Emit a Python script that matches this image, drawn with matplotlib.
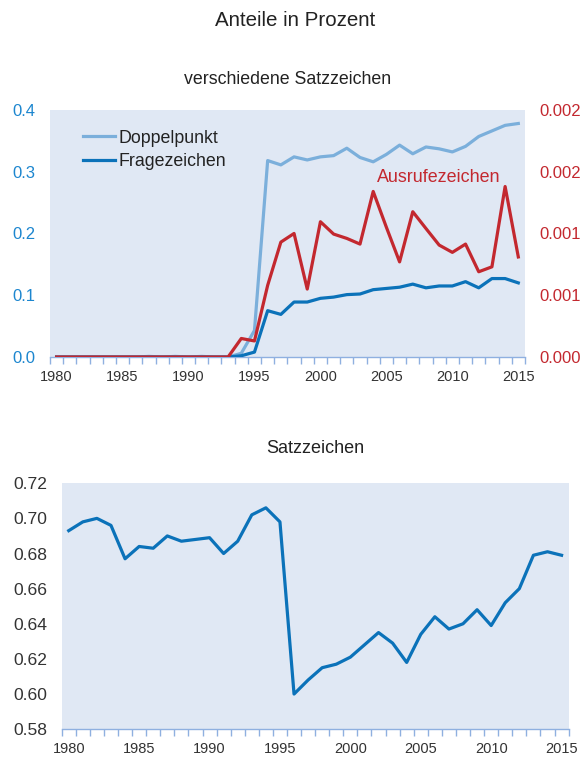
import numpy as np
import matplotlib
matplotlib.use("Agg")
import matplotlib.pyplot as plt
from matplotlib.ticker import FixedLocator

plt.rcParams["font.family"] = ["Liberation Sans", "DejaVu Sans"]

# --- data -------------------------------------------------------------
years = list(range(1980, 2016))

doppelpunkt = [0.0, 0.0, 0.0, 0.0, 0.0, 0.0, 0.0, 0.001, 0.0, 0.001,
               0.0, 0.001, 0.0, 0.0, 0.006, 0.043, 0.318, 0.311, 0.324, 0.319,
               0.324, 0.326, 0.338, 0.323, 0.316, 0.328, 0.343, 0.329, 0.340, 0.337,
               0.332, 0.341, 0.357, 0.366, 0.375, 0.378]

fragezeichen = [0.0, 0.0, 0.0, 0.0, 0.0, 0.0, 0.0, 0.0, 0.0, 0.0,
                0.0, 0.0, 0.0, 0.0, 0.002, 0.008, 0.075, 0.069, 0.089, 0.089,
                0.095, 0.097, 0.101, 0.102, 0.109, 0.111, 0.113, 0.118, 0.112, 0.115,
                0.115, 0.122, 0.112, 0.127, 0.127, 0.120]

ausrufezeichen = [0.0, 0.0, 0.0, 0.0, 0.0, 0.0, 0.0, 0.0, 0.0, 0.0,
                  0.0, 0.0, 0.0, 0.0, 0.00015, 0.00013, 0.00058, 0.00093, 0.0010, 0.00055,
                  0.001095, 0.000995, 0.00096, 0.000914, 0.00134, 0.00105, 0.00077, 0.001176, 0.00104, 0.000906,
                  0.000847, 0.000914, 0.00069, 0.00073, 0.00138, 0.00081]

satzzeichen = [0.693, 0.698, 0.700, 0.696, 0.677, 0.684, 0.683, 0.690, 0.687, 0.688,
               0.689, 0.680, 0.687, 0.702, 0.706, 0.698, 0.600, 0.608, 0.615, 0.617,
               0.621, 0.628, 0.635, 0.629, 0.618, 0.634, 0.644, 0.637, 0.640, 0.648,
               0.639, 0.652, 0.660, 0.679, 0.681, 0.679]

left_ticks = [0.0, 0.1, 0.2, 0.3, 0.4]
right_ticks = [0.0, 0.0005, 0.001, 0.0015, 0.002]
right_labels = ["0.000", "0.001", "0.001", "0.002", "0.002"]
bottom_ticks = [0.58, 0.60, 0.62, 0.64, 0.66, 0.68, 0.70, 0.72]

# --- styles -----------------------------------------------------------
BG = "#e0e8f4"
LIGHT = "#7bafdb"
DARK = "#0b72b9"
RED = "#c3282f"
AXIS = "#8fb0e0"
TEXT = "#333333"
LEFT_TXT = "#1c86cf"


def style_xaxis(ax):
    ax.set_xlim(1979.5, 2015.5)
    ax.xaxis.set_major_locator(FixedLocator(range(1980, 2016, 5)))
    ax.xaxis.set_minor_locator(FixedLocator(np.arange(1979.5, 2016, 1)))
    ax.tick_params(axis="x", which="major", length=0, labelsize=10.5, colors=TEXT, pad=9)
    ax.tick_params(axis="x", which="minor", length=5, width=1, color=AXIS, direction="out")
    ax.spines["bottom"].set_color(AXIS)
    ax.spines["bottom"].set_linewidth(1)
    for s in ["top", "left", "right"]:
        ax.spines[s].set_visible(False)


fig = plt.figure(figsize=(5.82, 7.58), dpi=100)
fig.text(0.507, 0.973, "Anteile in Prozent", ha="center", va="center", fontsize=14.8, color="#222222")

# top chart
ax1 = fig.add_axes([0.0859, 0.529, 0.816, 0.326])
ax1.set_facecolor(BG)
ax1.plot(years, doppelpunkt, color=LIGHT, lw=2.3, label="Doppelpunkt", zorder=3)
ax1.plot(years, fragezeichen, color=DARK, lw=2.3, label="Fragezeichen", zorder=3)
ax1.set_ylim(0, 0.4)
ax1.yaxis.set_major_locator(FixedLocator(left_ticks))
ax1.set_yticklabels([f"{t:.1f}" for t in left_ticks])
ax1.tick_params(axis="y", length=0, labelsize=12, colors=LEFT_TXT, pad=10.5)
style_xaxis(ax1)
ax1.set_title("verschiedene Satzzeichen", fontsize=12.8, color="#222222", pad=19)
ax1.legend(loc="upper left", bbox_to_anchor=(0.035, 0.985), frameon=False, fontsize=12.8,
           handlelength=1.8, handletextpad=0.2, labelspacing=0.35, labelcolor="#222222")

ax2 = ax1.twinx()
ax2.plot(years, ausrufezeichen, color=RED, lw=2.3, zorder=4)
ax2.set_ylim(0, 0.002)
ax2.yaxis.set_major_locator(FixedLocator(right_ticks))
ax2.set_yticklabels(right_labels)
ax2.tick_params(axis="y", length=0, labelsize=12, colors=RED, pad=10.5)
for s in ["top", "left", "right", "bottom"]:
    ax2.spines[s].set_visible(False)
ax2.text(2008.95, 0.00145, "Ausrufezeichen", color=RED, fontsize=12.9, ha="center", va="center")

# bottom chart
ax3 = fig.add_axes([0.106, 0.038, 0.871, 0.3245])
ax3.set_facecolor(BG)
ax3.plot(years, satzzeichen, color=DARK, lw=2.3)
ax3.set_ylim(0.58, 0.72)
ax3.yaxis.set_major_locator(FixedLocator(bottom_ticks))
ax3.set_yticklabels([f"{t:.2f}" for t in bottom_ticks])
ax3.tick_params(axis="y", length=0, labelsize=12.6, colors=TEXT, pad=10.5)
style_xaxis(ax3)
ax3.set_title("Satzzeichen", fontsize=13, color="#222222", pad=22)

fig.savefig("out.png", dpi=100)
